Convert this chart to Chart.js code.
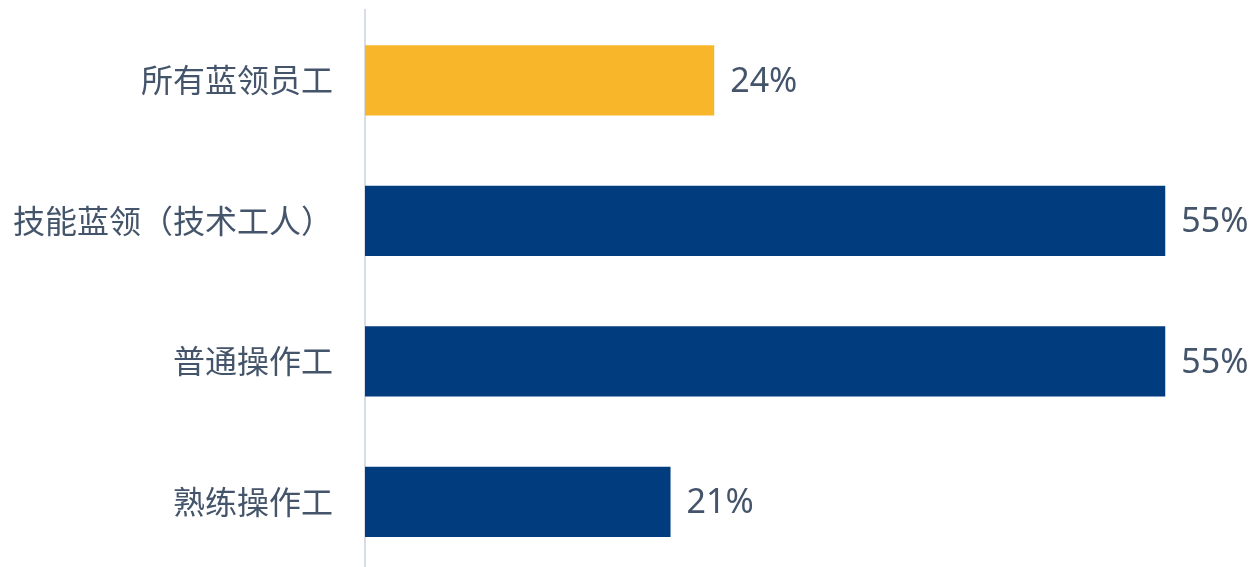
<!DOCTYPE html>
<html>
<head>
<meta charset="utf-8">
<script src="https://cdn.jsdelivr.net/npm/chart.js@4/dist/chart.umd.min.js"></script>
<style>
  html, body { margin: 0; padding: 0; background: #fff; overflow: hidden; }
  #wrap { width: 1252px; height: 572px; }
</style>
</head>
<body>
<div id="wrap"><canvas id="c"></canvas></div>
<script>
// Blue-collar share chart: one highlighted total bar + three sub-groups.
const CATEGORIES = ['所有蓝领员工', '技能蓝领（技术工人）', '普通操作工', '熟练操作工'];
const VALUES = [24, 55, 55, 21];
const BAR_COLORS = ['#F8B62B', '#003C7E', '#003C7E', '#003C7E'];

const INK = '#44546A';
const FONT = "'Noto Sans CJK SC', 'Noto Sans', sans-serif";

// Writes "NN%" just right of each bar end.
const valueLabels = {
  id: 'valueLabels',
  afterDatasetsDraw(chart) {
    const { ctx } = chart;
    const meta = chart.getDatasetMeta(0);
    ctx.save();
    ctx.fillStyle = INK;
    ctx.font = `400 34px 'Noto Sans', ${FONT}`;
    ctx.textAlign = 'left';
    ctx.textBaseline = 'middle';
    meta.data.forEach((bar, i) => {
      ctx.fillText(`${VALUES[i]}%`, bar.x + 16, bar.y + 2);
    });
    ctx.restore();
  },
};

new Chart(document.getElementById('c'), {
  type: 'bar',
  data: {
    labels: CATEGORIES,
    datasets: [{
      data: VALUES,
      backgroundColor: BAR_COLORS,
      borderWidth: 0,
      categoryPercentage: 1,
      barPercentage: 0.5,
    }],
  },
  options: {
    indexAxis: 'y',
    responsive: true, maintainAspectRatio: false, animation: false,
    layout: { padding: { top: 10, right: 14, bottom: 0, left: 0 } },
    plugins: { legend: { display: false }, tooltip: { enabled: false } },
    scales: {
      x: {
        min: 0, max: 60, display: false,
      },
      y: {
        grid: { display: false, drawTicks: false },
        border: { display: true, color: '#D8DDE5', width: 2 },
        ticks: { color: INK, font: { family: FONT, size: 32 }, padding: 32 },
        afterFit: s => { s.width = 365; s.paddingTop = 0; s.paddingBottom = 0; },
      },
    },
  },
  plugins: [valueLabels],
});
</script>
</body>
</html>
